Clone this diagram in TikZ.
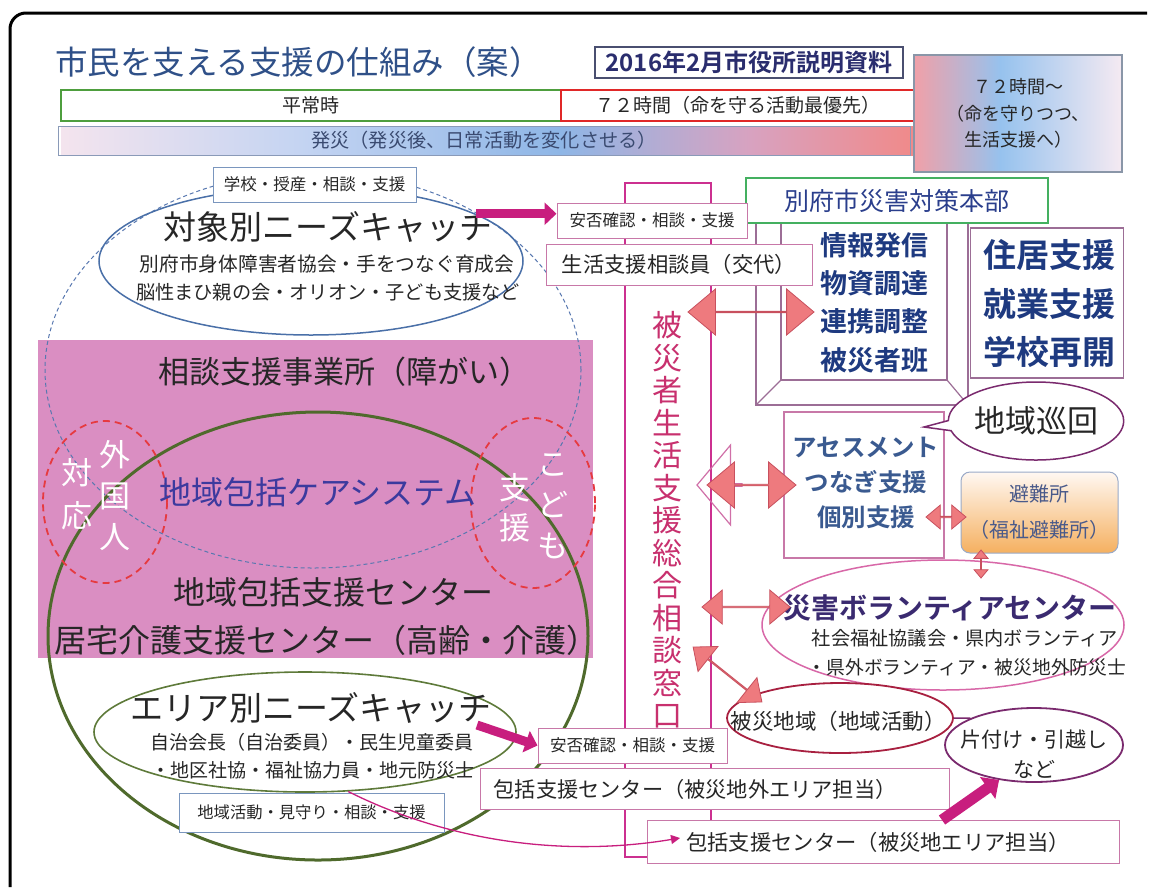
\documentclass[tikz,border=0pt]{standalone}
\usepackage{fontspec}
\setmainfont{Noto Sans CJK JP}[BoldFont={Noto Sans CJK JP Bold}]
\usetikzlibrary{shapes.arrows,shapes.callouts,shapes.geometric,arrows.meta}
\newcommand\fsz[2]{\fontsize{#1pt}{#2pt}\selectfont}
\definecolor{titleblue}{HTML}{2F5088}
\definecolor{navy}{HTML}{2A2D6E}
\definecolor{datebd}{HTML}{4A4F70}
\definecolor{grn}{HTML}{4E9E3E}
\definecolor{rd}{HTML}{E02828}
\definecolor{pinkbg}{HTML}{DA8EC2}
\definecolor{dblue}{HTML}{5878B0}
\definecolor{eblue}{HTML}{4A70A8}
\definecolor{olive}{HTML}{4F6A2C}
\definecolor{olive2}{HTML}{5E7A3A}
\definecolor{rdash}{HTML}{E63A40}
\definecolor{kcare}{HTML}{3C3A9E}
\definecolor{txt}{HTML}{262626}
\definecolor{mag}{HTML}{C81E7E}
\definecolor{tallbd}{HTML}{CC3090}
\definecolor{vtext}{HTML}{C8306E}
\definecolor{salf}{HTML}{EE7A7E}
\definecolor{sald}{HTML}{C8505E}
\definecolor{olpink}{HTML}{D070A8}
\definecolor{boxpk}{HTML}{C878A8}
\definecolor{framec}{HTML}{9C6E96}
\definecolor{bgreen}{HTML}{44B060}
\definecolor{hqblue}{HTML}{2A3E8C}
\definecolor{bbold}{HTML}{1E3A80}
\definecolor{asblue}{HTML}{3A5A90}
\definecolor{volpk}{HTML}{D868A8}
\definecolor{volt}{HTML}{3A2A70}
\definecolor{hisai}{HTML}{A82040}
\definecolor{kata}{HTML}{7A2A6E}
\definecolor{gakbd}{HTML}{7A96BE}
\definecolor{barbd}{HTML}{8A9AB8}
\definecolor{bartxt}{HTML}{3A4A70}
\definecolor{bA}{HTML}{F4E4EE}
\definecolor{bB}{HTML}{C4D4F2}
\definecolor{bC}{HTML}{8EB6E6}
\definecolor{bD}{HTML}{D8A2C0}
\definecolor{bE}{HTML}{F08A8A}
\definecolor{cA}{HTML}{F0A0A8}
\definecolor{cB}{HTML}{96C2EE}
\definecolor{cC}{HTML}{F5EAF2}
\definecolor{box72bd}{HTML}{8A96A8}
\definecolor{hA}{HTML}{FFF8F2}
\definecolor{hB}{HTML}{F8C890}
\definecolor{hC}{HTML}{F5B060}
\definecolor{hinbd}{HTML}{9AAAC8}
\definecolor{hintext}{HTML}{4A5A8A}
\begin{document}
\begin{tikzpicture}[x=1pt,y=-1pt,
  every node/.style={inner sep=0pt, text=txt},
  wbox/.style={draw, fill=white, line width=1pt},
  sarrow/.style={double arrow, draw=sald, fill=salf, line width=0.8pt, double arrow tip angle=80},
  vwhite/.style={text=white, align=center, font=\fsz{31}{41}}]
\useasboundingbox (0,0) rectangle (1150,887);
\fill[white] (0,0) rectangle (1150,887);
% outer frame (right and bottom sides lie outside the picture)
\draw[line width=3pt, rounded corners=16pt] (1147,13) -- (10,13) -- (10,887);

% header
\node[anchor=west, font=\fsz{32.5}{36}, text=titleblue] (title) at (55,62) {市民を支える支援の仕組み（案）};
\node[draw=datebd, line width=1.3pt, fill=white, minimum width=308pt, minimum height=31pt, font=\bfseries\fsz{24}{28}, text=navy] (date) at (749,62.5) {2016年2月市役所説明資料};
\node[draw=grn, line width=2.5pt, minimum width=500pt, minimum height=31pt, font=\fsz{19}{22}] (heijo) at (311,105.5) {平常時};
\node[draw=rd, line width=2.5pt, minimum width=354pt, minimum height=31pt, font=\fsz{19}{22}] (h72) at (738,105.5) {７２時間（命を守る活動最優先）};
\shade[left color=bA, right color=bB] (61,126) rectangle (301,155);
\shade[left color=bB, right color=bC] (300,126) rectangle (561,155);
\shade[left color=bC, right color=bD] (560,126) rectangle (751,155);
\shade[left color=bD, right color=bE] (750,126) rectangle (913,155);
\node[draw=barbd, line width=0.8pt, minimum width=852pt, minimum height=29pt, font=\fsz{19.2}{22}, text=bartxt] (bar) at (484,140.5) {発災（発災後、日常活動を変化させる）};
\shade[left color=cA, right color=cB] (914,55) rectangle (1001,172);
\shade[left color=cB, right color=cC] (1000,55) rectangle (1122,172);
\node[draw=box72bd, line width=1.2pt, minimum width=208pt, minimum height=117pt, align=center, font=\fsz{18}{26.5}] (b72) at (1018,113.5) {７２時間～\\（命を守りつつ、\\生活支援へ）};

% left area
\node[fill=pinkbg, minimum width=555pt, minimum height=318pt] (pinkarea) at (315.5,499) {};
\draw[dblue, line width=1pt, dash pattern=on 4pt off 3pt] (313,370) ellipse [x radius=268pt, y radius=198pt];
\draw[olive, line width=3pt] (318,636) ellipse [x radius=270pt, y radius=224pt];
\draw[rdash, line width=1.8pt, dash pattern=on 7pt off 5pt] (105,502) ellipse [x radius=62pt, y radius=81pt];
\draw[rdash, line width=1.8pt, dash pattern=on 7pt off 5pt] (533,503) ellipse [x radius=62pt, y radius=85pt];
\node[ellipse, draw=eblue, line width=1.5pt, minimum width=424pt, minimum height=148pt] (taisho) at (311,261) {};
\node[wbox, draw=gakbd, minimum width=203pt, minimum height=35pt, font=\fsz{16.5}{20}] (gakko) at (314.5,184.5) {学校・授産・相談・支援};
\node[font=\fsz{33}{38}] (taishot) at (328,227) {対象別ニーズキャッチ};
\node[font=\fsz{19.7}{23}] (taishos1) at (327,264) {別府市身体障害者協会・手をつなぐ育成会};
\node[font=\fsz{19.2}{23}] (taishos2) at (328,292) {脳性まひ親の会・オリオン・子ども支援など};
\node[font=\fsz{31}{36}] (soudan) at (344,372) {相談支援事業所（障がい）};
\node[font=\fsz{32}{36}, text=kcare] (kcaret) at (318,492) {地域包括ケアシステム};
\node[font=\fsz{32}{36}] (houkatsu) at (333,592) {地域包括支援センター};
\node[font=\fsz{32}{36}] (kyotaku) at (326,640) {居宅介護支援センター（高齢・介護）};
\node[vwhite] (gaikoku) at (115,496) {外\\国\\人};
\node[vwhite, font=\fsz{31}{43}] (taiou) at (77,494) {対\\応};
\node[vwhite] (kodomo) at (553,506) {こ\\ど\\も};
\node[vwhite, font=\fsz{31}{40}] (shien) at (515,508) {支\\援};
\node[ellipse, draw=olive2, line width=1.6pt, minimum width=422pt, minimum height=120pt] (area) at (305,732) {};
\node[font=\fsz{33}{38}] (areat) at (311,708) {エリア別ニーズキャッチ};
\node[font=\fsz{19}{23}] (areas1) at (312,742) {自治会長（自治委員）・民生児童委員};
\node[font=\fsz{19}{23}] (areas2) at (313,770) {・地区社協・福祉協力員・地元防災士};
\node[wbox, draw=gakbd, minimum width=265pt, minimum height=39pt, font=\fsz{16.3}{20}] (chiiki) at (311.5,812.5) {地域活動・見守り・相談・支援};

% central column
\node[draw=tallbd, line width=2.5pt, fill=white, minimum width=86pt, minimum height=674pt] (madoguchi) at (668,520) {};

% HQ frame
\fill[white] (756,222) rectangle (968,405);
\draw[framec, line width=1.6pt] (756,222) rectangle (968,405);
\draw[framec, line width=1.6pt] (781,222) rectangle (947,380);
\draw[framec, line width=1.2pt] (781,380) -- (756,405) (947,380) -- (968,405);
\node[font=\bfseries\fsz{27}{38.3}, align=center, text=bbold] (joho) at (874,302.5) {情報発信\\物資調達\\連携調整\\被災者班};
\node[wbox, draw=bgreen, line width=2pt, minimum width=302pt, minimum height=45pt, font=\fsz{25}{30}, text=hqblue] (beppu) at (897,200.5) {別府市災害対策本部};
\node[wbox, draw=framec, line width=1.5pt, minimum width=153pt, minimum height=150pt] (juukyo) at (1047,303) {};
\node[font=\bfseries\fsz{33}{48.5}, align=center, text=bbold] (juukyot) at (1049,303.5) {住居支援\\就業支援\\学校再開};

\node[wbox, draw=boxpk, minimum width=190pt, minimum height=35pt, font=\fsz{16.5}{20}] (anpi1) at (652,220.5) {安否確認・相談・支援};
\node[wbox, draw=boxpk, minimum width=266pt, minimum height=41pt, font=\fsz{21.3}{25}] (seikatsu) at (679,264.5) {生活支援相談員（交代）};

\node[wbox, draw=boxpk, line width=1.5pt, minimum width=160pt, minimum height=146pt] (assess) at (864,485) {};
\node[font=\bfseries\fsz{24.5}{35}, align=center, text=asblue] (assesst) at (866,483) {アセスメント\\つなぎ支援\\個別支援};
\node[ellipse callout, draw=kata, line width=1.5pt, fill=white, minimum width=170pt, minimum height=78pt, callout absolute pointer={(924,427)}, font=\fsz{31}{36}] (junkai) at (1036,421) {地域巡回};
\node[draw=hinbd, line width=1pt, rounded corners=9pt, top color=hA, middle color=hB, bottom color=hC, minimum width=157pt, minimum height=81pt, align=center, font=\fsz{20}{36}, text=hintext] (hinan) at (1039.5,512.5) {避難所\\（福祉避難所）};

\node[ellipse, draw=volpk, line width=1.5pt, fill=white, minimum width=362pt, minimum height=130pt] (vol) at (943,625) {};
\node[font=\bfseries\fsz{28}{32}, text=volt] (volt) at (950,608) {災害ボランティアセンター};
\node[font=\fsz{19.2}{23}] (vols1) at (965,638) {社会福祉協議会・県内ボランティア};
\node[font=\fsz{18.8}{23}] (vols2) at (967,667) {・県外ボランティア・被災地外防災士};

\node[ellipse, draw=hisai, line width=1.8pt, fill=white, minimum width=226pt, minimum height=70pt] (hisaichi) at (840,718) {};
\node[font=\fsz{21.5}{25}] (hisaichit) at (838,721) {被災地域（地域活動）};
\node[ellipse, draw=kata, line width=1.8pt, fill=white, minimum width=178pt, minimum height=74pt] (kata) at (1034,745) {};
\node[font=\fsz{21}{25}] (katat1) at (1034,740) {片付け・引越し};
\node[font=\fsz{21}{25}] (katat2) at (1034,769) {など};
\draw[kata, line width=1.5pt] (hisaichi.east) -- (kata.north west);

\node[wbox, draw=boxpk, minimum width=189pt, minimum height=35pt, font=\fsz{16.5}{20}] (anpi2) at (632.5,745.5) {安否確認・相談・支援};
\node[wbox, draw=boxpk, minimum width=469pt, minimum height=41pt] (hokatsu1) at (714.5,788.5) {};
\node[font=\fsz{21.2}{25}] (hokatsu1t) at (695,789) {包括支援センター（被災地外エリア担当）};
\node[wbox, draw=boxpk, minimum width=472pt, minimum height=43pt] (hokatsu2) at (883,841.5) {};
\node[font=\fsz{21.3}{25}] (hokatsu2t) at (878,842) {包括支援センター（被災地エリア担当）};

% salmon arrows
\node[single arrow, draw=olpink, line width=1.2pt, minimum height=45pt, minimum width=80pt, single arrow head extend=20pt, single arrow tip angle=100, rotate=180] (a2o) at (720,485) {};
\node[sarrow, minimum height=126pt, minimum width=46pt, double arrow head extend=14pt] (a1) at (751,312) {};
\node[sarrow, minimum height=89pt, minimum width=46pt, double arrow head extend=12pt] (a2) at (751.5,485) {};
\node[sarrow, minimum height=88pt, minimum width=34pt, double arrow head extend=9pt] (a3) at (746,607) {};
\node[sarrow, minimum height=88pt, minimum width=32pt, double arrow head extend=9pt, rotate=-38.6] (a4) at (727.5,674.5) {};
\node[sarrow, minimum height=40pt, minimum width=24pt, double arrow head extend=7pt] (a5) at (946,517) {};
\node[sarrow, minimum height=28pt, minimum width=14pt, double arrow head extend=4.5pt, rotate=90] (a6) at (981,564) {};

% vertical text in column
\node[font=\fsz{30}{32.5}, text=vtext, align=center] (madotext) at (667,520) {被\\災\\者\\生\\活\\支\\援\\総\\合\\相\\談\\窓\\口};

% magenta arrows
\coordinate (m2s) at (477,725);
\coordinate (m3s) at (942,820);
\coordinate (c2) at (680,838);
\draw[mag, line width=9pt, -{Triangle[length=12pt,width=22pt]}] (taisho.16) -- (taisho.16 -| anpi1.west);
\draw[mag, line width=9pt, -{Triangle[length=12pt,width=22pt]}] (m2s) -- (anpi2.west);
\draw[mag, line width=11pt, -{Triangle[length=14pt,width=26pt]}] (m3s) -- (kata.225);
\draw[mag, line width=1.3pt, -{Triangle[length=9pt,width=9pt]}] (area.-54) .. controls (445,840) and (560,858) .. (c2);
\end{tikzpicture}
\end{document}
